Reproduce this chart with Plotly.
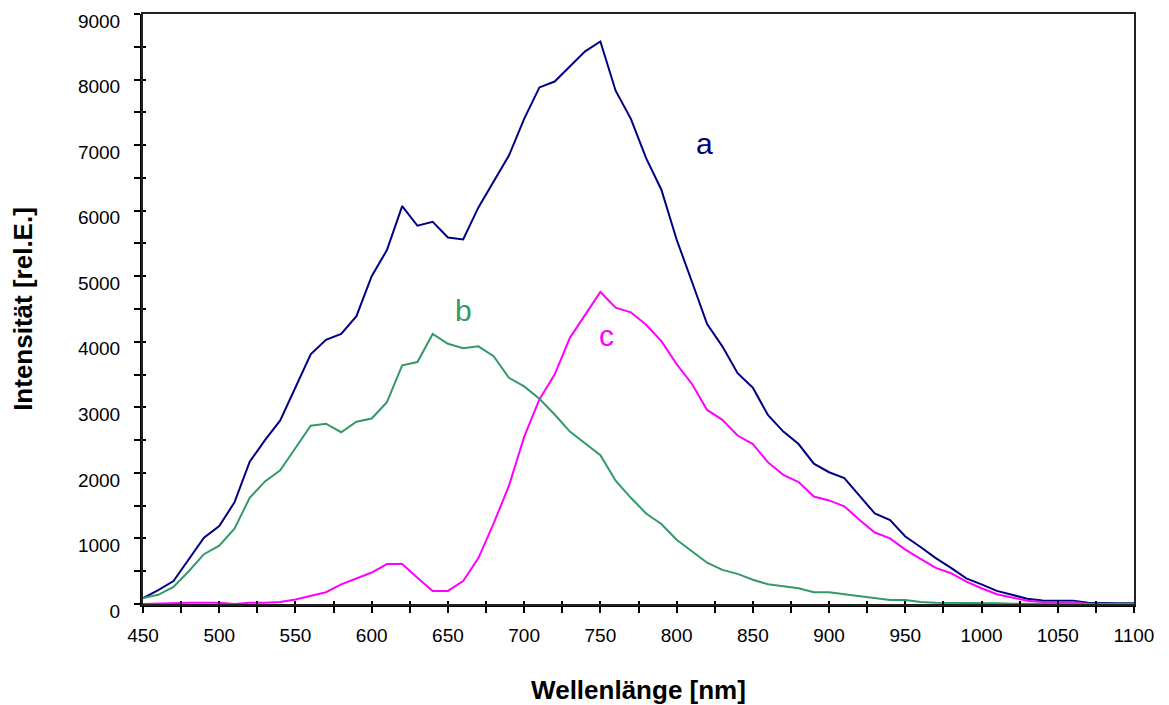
import plotly.graph_objects as go

wavelength = list(range(450, 1101, 10))

curve_a = [90, 210, 350, 690, 1010, 1190, 1550, 2170, 2500, 2800,
           3300, 3810, 4030, 4120, 4390, 5000, 5400, 6070, 5770, 5830,
           5590, 5560, 6050, 6440, 6840, 7400, 7880, 7970, 8200, 8430,
           8580, 7830, 7400, 6800, 6320, 5560, 4920, 4270, 3930, 3520,
           3300, 2880, 2630, 2440, 2140, 2010, 1920, 1650, 1380, 1280,
           1030, 870, 700, 550, 390, 300, 200, 140, 80, 55,
           50, 50, 20, 10, 10, 10]

curve_b = [90, 140, 260, 500, 760, 890, 1150, 1620, 1870, 2040,
           2380, 2720, 2750, 2620, 2780, 2830, 3080, 3640, 3690, 4120,
           3970, 3900, 3930, 3780, 3450, 3320, 3130, 2890, 2630, 2450,
           2270, 1880, 1620, 1380, 1220, 980, 800, 630, 520, 460,
           370, 300, 270, 240, 180, 180, 150, 120, 90, 60,
           60, 30, 20, 20, 20, 10, 10, 5, 5, 5,
           5, 5, 5, 5, 5, 5]

curve_c = [0, 10, 20, 20, 20, 20, 0, 20, 20, 30,
           70, 120, 180, 300, 390, 480, 610, 610, 400, 200,
           200, 350, 700, 1230, 1800, 2550, 3120, 3500, 4060, 4420,
           4760, 4520, 4450, 4260, 4010, 3660, 3360, 2960, 2810, 2570,
           2440, 2160, 1970, 1860, 1640, 1580, 1490, 1280, 1090, 1000,
           830, 690, 550, 470, 340, 240, 150, 100, 50, 30,
           30, 30, 0, 0, 0, 0]

labels = ["a", "b", "c"]
label_x = [818, 660, 754]
label_y = [7030, 4480, 4100]

colors = ["#000080", "#339966", "#FF00FF"]

fig = go.Figure()
for name, ys, col in [("a", curve_a, colors[0]), ("c", curve_c, colors[2]), ("b", curve_b, colors[1])]:
    fig.add_trace(go.Scatter(x=wavelength, y=ys, mode="lines", name=name,
                             line=dict(color=col, width=2), cliponaxis=True))

for t, x, y, col in zip(labels, label_x, label_y, colors):
    fig.add_annotation(x=x, y=y, text=t, showarrow=False,
                       font=dict(family="Liberation Sans, Arial", size=30, color=col))

tickfont = dict(family="Liberation Sans, Arial", size=19, color="black")
titlefont = dict(family="Liberation Sans, Arial", size=26, color="black")

fig.update_layout(
    width=1161, height=697,
    margin=dict(l=135, r=35, t=6, b=101, autoexpand=False),
    paper_bgcolor="white", plot_bgcolor="white",
    showlegend=False,
    xaxis=dict(range=[450, 1100], dtick=50, tick0=450, showgrid=False, zeroline=False,
               automargin=False, ticklabeloverflow="allow",
               showline=True, linecolor="black", linewidth=3,
               ticks="outside", ticklen=6, tickwidth=2, tickcolor="black",
               minor=dict(dtick=25, ticks="outside", ticklen=6, tickwidth=2, tickcolor="black"),
               tickfont=tickfont, ticklabelstandoff=6,
               title=dict(text="<b>Wellenlänge [nm]</b>", font=titlefont, standoff=37)),
    yaxis=dict(range=[0, 9000], dtick=1000, showgrid=False, zeroline=False,
               automargin=False, ticklabeloverflow="allow",
               showline=True, linecolor="black", linewidth=3,
               ticks="outside", ticklen=6, tickwidth=2, tickcolor="black",
               minor=dict(dtick=500, ticks="outside", ticklen=6, tickwidth=2, tickcolor="black"),
               tickfont=tickfont, ticklabelstandoff=10, ticklabelshift=7,
               title=dict(text="<b>Intensität [rel.E.]</b>", font=titlefont, standoff=41)),
    xaxis2=dict(range=[450, 1100], overlaying="x", side="bottom", showgrid=False, zeroline=False,
                automargin=False, showline=True, mirror=True, linecolor="#222222", linewidth=2,
                showticklabels=False, ticks="inside", ticklen=3, tickwidth=2, dtick=25, tick0=450,
                tickcolor="black", anchor="y"),
    yaxis2=dict(range=[0, 9000], overlaying="y", side="left", showgrid=False, zeroline=False,
                automargin=False, showline=True, mirror=True, linecolor="#222222", linewidth=2,
                showticklabels=False, ticks="inside", ticklen=3, tickwidth=2, dtick=500,
                tickcolor="black", anchor="x"),
)

fig.add_trace(go.Scatter(x=[450], y=[0], xaxis="x2", yaxis="y2", mode="markers",
                         marker=dict(opacity=0), hoverinfo="skip", showlegend=False))

fig.write_html("out.html")
